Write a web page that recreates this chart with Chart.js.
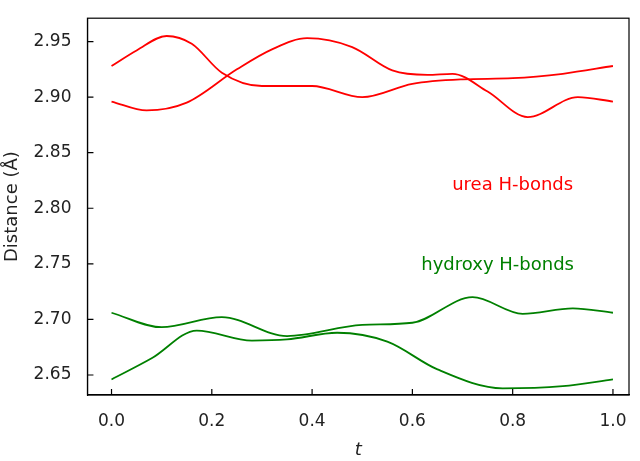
<!DOCTYPE html>
<html>
<head>
<script src="https://cdn.jsdelivr.net/npm/chart.js@4"></script>
<style>
  html, body { margin: 0; padding: 0; background: #fff; }
  #wrap { width: 640px; height: 461px; }
</style>
</head>
<body>
<div id="wrap"><canvas id="chart"></canvas></div>
<script>
// values
const ureaT1 = [0, 0.05, 0.11, 0.16, 0.22, 0.30, 0.40, 0.50, 0.60, 0.70, 0.80, 0.90, 1.0];
const ureaA = [2.928, 2.942, 2.955, 2.948, 2.922, 2.910, 2.910, 2.900, 2.912, 2.916, 2.917, 2.921, 2.928];
const ureaT2 = [0, 0.07, 0.15, 0.25, 0.32, 0.39, 0.48, 0.56, 0.63, 0.68, 0.75, 0.83, 0.93, 1.0];
const ureaB = [2.896, 2.888, 2.895, 2.925, 2.943, 2.953, 2.945, 2.924, 2.920, 2.921, 2.905, 2.882, 2.900, 2.896];
const hydT1 = [0, 0.10, 0.22, 0.35, 0.50, 0.60, 0.72, 0.82, 0.92, 1.0];
const hydA = [2.706, 2.693, 2.702, 2.685, 2.695, 2.697, 2.720, 2.705, 2.710, 2.706];
const hydT2 = [0, 0.08, 0.17, 0.28, 0.35, 0.45, 0.55, 0.65, 0.78, 0.90, 1.0];
const hydB = [2.646, 2.665, 2.690, 2.681, 2.682, 2.688, 2.680, 2.655, 2.638, 2.640, 2.646];
const yTicks = [2.65, 2.70, 2.75, 2.80, 2.85, 2.90, 2.95];
const xTicks = [0, 0.2, 0.4, 0.6, 0.8, 1.0];

const RED = '#ff0000';
const GREEN = '#008000';

function pts(ts, vs) {
    return ts.map((t, i) => ({ x: t, y: vs[i] }));
}

function series(ts, vs, color) {
    return {
        data: pts(ts, vs),
        borderColor: color,
        borderWidth: 1.8,
        pointRadius: 0,
        fill: false,
        cubicInterpolationMode: 'monotone'
    };
}

// text labels inside the plot
const labelPlugin = {
    id: 'labels',
    afterDraw(chart) {
        const ctx = chart.ctx;
        const xs = chart.scales.x, ys = chart.scales.y;
        ctx.save();
        ctx.font = '18px "DejaVu Sans"';
        ctx.textAlign = 'center';
        ctx.textBaseline = 'middle';
        ctx.fillStyle = RED;
        ctx.fillText('urea H-bonds', xs.getPixelForValue(0.80), ys.getPixelForValue(2.821));
        ctx.fillStyle = GREEN;
        ctx.fillText('hydroxy H-bonds', xs.getPixelForValue(0.77), ys.getPixelForValue(2.7485));
        ctx.restore();
    }
};

new Chart(document.getElementById('chart'), {
    type: 'line',
    data: {
        datasets: [
            series(ureaT1, ureaA, RED),
            series(ureaT2, ureaB, RED),
            series(hydT1, hydA, GREEN),
            series(hydT2, hydB, GREEN)
        ]
    },
    options: {
        responsive: true,
        maintainAspectRatio: false,
        animation: false,
        layout: { padding: { top: 1, right: 11, left: 0, bottom: 0 } },
        plugins: { legend: { display: false }, tooltip: { enabled: false } },
        scales: {
            x: {
                type: 'linear',
                min: -0.048, max: 1.032,
                afterBuildTicks: (s) => { s.ticks = xTicks.map(v => ({ value: v })); },
                grid: { display: false },
                border: { color: '#000', width: 1.2 },
                ticks: { color: '#222', font: { family: 'DejaVu Sans', size: 17 }, padding: 8,
                    callback: v => v.toFixed(1) },
                title: { display: true, text: 't', color: '#222',
                    font: { family: 'DejaVu Sans', size: 18, style: 'italic' }, padding: 0 }
            },
            y: {
                min: 2.632, max: 2.971,
                afterBuildTicks: (s) => { s.ticks = yTicks.map(v => ({ value: v })); },
                grid: { display: false },
                border: { color: '#000', width: 1.2 },
                ticks: { color: '#222', font: { family: 'DejaVu Sans', size: 17 }, padding: 8,
                    callback: v => v.toFixed(2) },
                title: { display: true, text: 'Distance (Å)', color: '#222',
                    font: { family: 'DejaVu Sans', size: 18 }, padding: 2 }
            }
        }
    },
    plugins: [labelPlugin, {
        id: 'frame',
        afterDraw(chart) {
            const a = chart.chartArea, ctx = chart.ctx;
            ctx.save();
            ctx.strokeStyle = '#000';
            ctx.lineWidth = 1.2;
            ctx.strokeRect(a.left, a.top, a.right - a.left, a.bottom - a.top);
            // inward ticks
            ctx.beginPath();
            xTicks.forEach(v => {
                const x = chart.scales.x.getPixelForValue(v);
                ctx.moveTo(x, a.bottom); ctx.lineTo(x, a.bottom - 6);
            });
            yTicks.forEach(v => {
                const y = chart.scales.y.getPixelForValue(v);
                ctx.moveTo(a.left, y); ctx.lineTo(a.left + 6, y);
            });
            ctx.stroke();
            ctx.restore();
        }
    }]
});
</script>
</body>
</html>
